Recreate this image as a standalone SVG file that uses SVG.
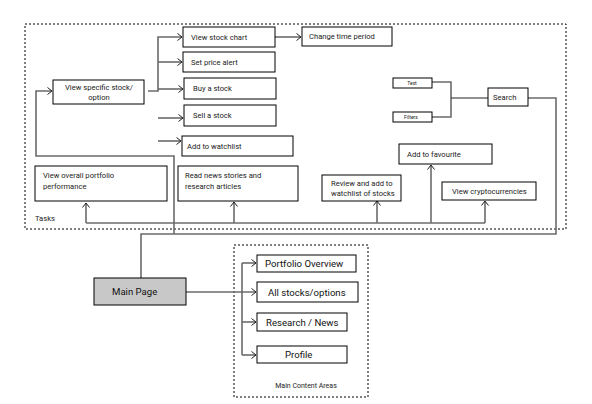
<svg xmlns="http://www.w3.org/2000/svg" width="592" height="404" viewBox="0 0 592 404">
<style>
.b{fill:#fff;stroke:#000;stroke-width:1}
.t{font-family:Roboto,"Liberation Sans",sans-serif;font-size:7.6px;fill:#222}
.m{font-family:Roboto,"Liberation Sans",sans-serif;font-size:9.6px;fill:#111}
.c{fill:none;stroke:#6b6b6b;stroke-width:1.6}
.a{marker-end:url(#ar)}
.d{fill:none;stroke:#000;stroke-width:1;stroke-dasharray:2,2}
</style>
<defs>
<marker id="ar" viewBox="0 0 6 8" refX="5" refY="4" markerWidth="6" markerHeight="8" markerUnits="userSpaceOnUse" orient="auto">
<path d="M0.5,0.5 L5,4 L0.5,7.5" fill="none" stroke="#222" stroke-width="1"/>
</marker>
</defs>
<rect width="592" height="404" fill="#fff"/>
<rect id="tasks-area" class="d" x="25" y="24" width="541" height="205"/>
<text class="t" x="35" y="221">Tasks</text>
<rect id="main-content-area" class="d" x="234" y="245" width="134" height="152"/>
<text class="t" x="306" y="388" text-anchor="middle" style="font-size:7px">Main Content Areas</text>
<g id="connectors">
<path class="c a" d="M148,91 H158 V37 H182"/>
<path class="c a" d="M158,62 H182"/>
<path class="c a" d="M158,89 H183"/>
<path class="c a" d="M158,118 H183"/>
<path class="c a" d="M158,141 H181"/>
<path class="c a" d="M275,37 H301"/>
<path class="c" d="M141,278 V234 H556 V98 H528"/>
<path class="c a" d="M174,234 V156 H36 V91 H52"/>
<path class="c" d="M432,82 H451 V117 H432"/>
<path class="c" d="M451,98 H488" style="stroke:#222;stroke-width:1"/>
<path class="c" d="M86,223 H485"/>
<path class="c a" d="M86,223 V203"/>
<path class="c a" d="M234,223 V202"/>
<path class="c a" d="M377,223 V201"/>
<path class="c a" d="M431,223 V165"/>
<path class="c a" d="M485,223 V201"/>
<path class="c a" d="M186,292 H256"/>
<path class="c a" d="M242,263 H256"/>
<path class="c" d="M242,263 V355"/>
<path class="c a" d="M242,322 H256"/>
<path class="c a" d="M242,355 H256"/>
</g>
<g id="view-stock-chart"><rect class="b" x="183" y="27" width="92" height="20"/><text class="t" x="191" y="40">View stock chart</text></g>
<g id="set-price-alert"><rect class="b" x="183" y="52" width="92" height="20"/><text class="t" x="191" y="65">Set price alert</text></g>
<g id="buy-a-stock"><rect class="b" x="184" y="78" width="92" height="21"/><text class="t" x="193" y="91">Buy a stock</text></g>
<g id="sell-a-stock"><rect class="b" x="184" y="105" width="92" height="21"/><text class="t" x="193" y="118">Sell a stock</text></g>
<g id="add-to-watchlist"><rect class="b" x="182" y="136" width="111" height="20"/><text class="t" x="187" y="149">Add to watchlist</text></g>
<g id="view-specific-stock"><rect class="b" x="53" y="80" width="91" height="24"/><text class="t" x="99" y="90" text-anchor="middle">View specific stock/</text><text class="t" x="99" y="100" text-anchor="middle">option</text></g>
<g id="change-time-period"><rect class="b" x="302" y="27" width="90" height="19"/><text class="t" x="309" y="39">Change time period</text></g>
<g id="test"><rect class="b" x="393" y="78" width="39" height="10"/><text class="t" x="412" y="85" text-anchor="middle" style="font-size:5px">Text</text></g>
<g id="filters"><rect class="b" x="393" y="112" width="39" height="10"/><text class="t" x="411" y="119" text-anchor="middle" style="font-size:5px">Filters</text></g>
<g id="search"><rect class="b" x="488" y="88" width="40" height="18"/><text class="t" x="493" y="100">Search</text></g>
<g id="add-to-favourite"><rect class="b" x="399" y="144" width="93" height="20"/><text class="t" x="407" y="157">Add to favourite</text></g>
<g id="view-overall-portfolio"><rect class="b" x="35" y="166" width="132" height="35"/><text class="t" x="43" y="178">View overall portfolio</text><text class="t" x="43" y="189">performance</text></g>
<g id="read-news"><rect class="b" x="178" y="166" width="120" height="35"/><text class="t" x="185" y="178">Read news stories and</text><text class="t" x="185" y="189">research articles</text></g>
<g id="review-watchlist"><rect class="b" x="322" y="175" width="79" height="26"/><text class="t" x="331" y="186">Review and add to</text><text class="t" x="331" y="196">watchlist of stocks</text></g>
<g id="view-crypto"><rect class="b" x="442" y="182" width="94" height="18"/><text class="t" x="452" y="194">View cryptocurrencies</text></g>
<g id="main-page"><rect x="94" y="278" width="92" height="27" fill="#c8c8c8" stroke="#000" stroke-width="1"/><text class="m" x="112" y="295">Main Page</text></g>
<g id="portfolio-overview"><rect class="b" x="257" y="255" width="99" height="17"/><text class="m" x="265" y="267">Portfolio Overview</text></g>
<g id="all-stocks"><rect class="b" x="257" y="282" width="101" height="20"/><text class="m" x="268" y="296">All stocks/options</text></g>
<g id="research-news"><rect class="b" x="257" y="313" width="90" height="18"/><text class="m" x="266" y="326">Research / News</text></g>
<g id="profile"><rect class="b" x="257" y="346" width="90" height="17"/><text class="m" x="285" y="358">Profile</text></g>
</svg>
